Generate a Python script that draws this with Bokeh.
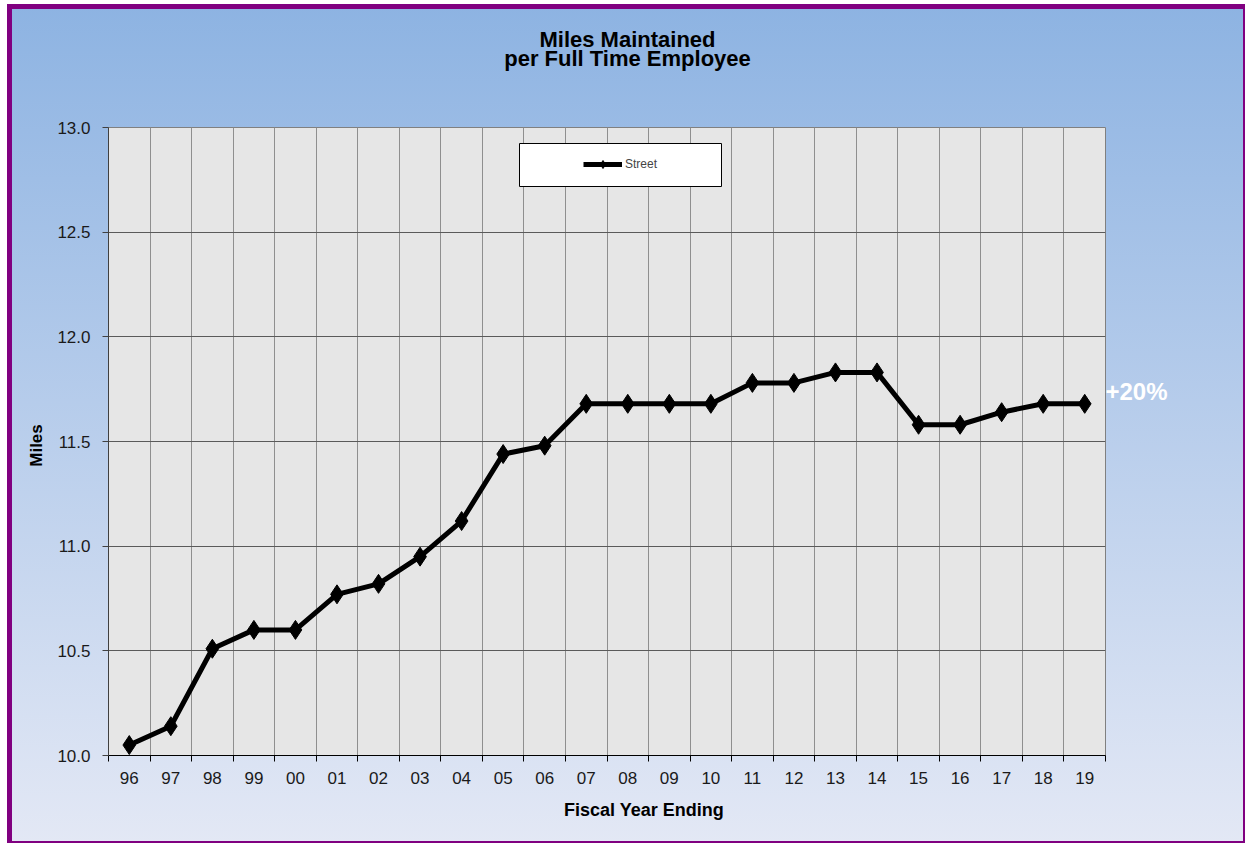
import numpy as np
from math import pi
from bokeh.plotting import figure
from bokeh.models import Range1d, FixedTicker, Label, Legend, LegendItem, BoxAnnotation, PrintfTickFormatter
from bokeh.embed import file_html
from bokeh.resources import INLINE

# ---------------- data ----------------
years = ["96", "97", "98", "99", "00", "01", "02", "03", "04", "05", "06", "07",
         "08", "09", "10", "11", "12", "13", "14", "15", "16", "17", "18", "19"]
miles = [10.05, 10.14, 10.51, 10.60, 10.60, 10.77, 10.82, 10.95, 11.12, 11.44, 11.48, 11.68,
         11.68, 11.68, 11.68, 11.78, 11.78, 11.83, 11.83, 11.58, 11.58, 11.64, 11.68, 11.68]
y_ticks = [10.0, 10.5, 11.0, 11.5, 12.0, 12.5, 13.0]
title_lines = ["Miles Maintained", "per Full Time Employee"]
series_name = "Street"
x_title = "Fiscal Year Ending"
y_title = "Miles"
change_note = "+20%"

FONT = "Liberation Sans"
n = len(years)
xs = np.arange(n) + 0.5
x0, x1 = 0, n
y0, y1 = y_ticks[0], y_ticks[-1]

p = figure(width=1238, height=839, x_range=Range1d(x0, x1), y_range=Range1d(y0, y1),
           output_backend="svg", toolbar_location=None, title=None,
           min_border_left=101, min_border_right=140, min_border_top=123, min_border_bottom=88)

p.border_fill_alpha = 0
p.background_fill_color = "#e6e6e6"
p.outline_line_color = "#808080"
p.outline_line_width = 1
p.styles = {
    "margin-left": "7px",
    "margin-top": "4px",
    "background": "linear-gradient(to bottom, #8db3e2 0%, #e3e8f5 100%)",
    "box-shadow": "inset 5px 5px 0 0 #800080, inset -2px -2px 0 0 #800080",
}

# axes
p.xaxis.ticker = FixedTicker(ticks=list(xs), minor_ticks=list(range(n + 1)))
p.xaxis.major_label_overrides = {float(x): yr for x, yr in zip(xs, years)}
p.xaxis.major_tick_out = 0
p.xaxis.major_tick_in = 0
p.xaxis.minor_tick_out = 6
p.xaxis.minor_tick_in = 0
p.xaxis.minor_tick_line_color = "black"
p.xaxis.axis_line_color = "black"
p.xaxis.major_label_standoff = 10
p.xaxis.major_label_text_font = FONT
p.xaxis.major_label_text_font_size = "17px"
p.xaxis.major_label_text_color = "#1a1a1a"

p.yaxis.ticker = FixedTicker(ticks=y_ticks)
p.yaxis.formatter = PrintfTickFormatter(format="%.1f")
p.yaxis.major_tick_out = 6
p.yaxis.major_tick_in = 0
p.yaxis.minor_tick_line_color = None
p.yaxis.axis_line_color = "#404040"
p.yaxis.major_tick_line_color = "#404040"
p.yaxis.major_label_standoff = 12
p.yaxis.major_label_text_font = FONT
p.yaxis.major_label_text_font_size = "17px"
p.yaxis.major_label_text_color = "#1a1a1a"

# grids
p.xgrid.grid_line_color = None
p.xgrid.minor_grid_line_color = "#8f8f8f"
p.xgrid.minor_grid_line_width = 1
p.ygrid.grid_line_color = "#5a5a5a"
p.ygrid.grid_line_width = 1

# series
ln = p.line(xs, miles, line_width=5, line_color="black", line_join="round")
sc = p.scatter(xs, miles, marker="diamond", size=19, fill_color="black", line_color="black")

# legend box + legend
box = BoxAnnotation(left=411, right=613, bottom=569, top=612,
                    left_units="screen", right_units="screen", top_units="screen", bottom_units="screen",
                    fill_color="white", fill_alpha=1, line_color="black", line_width=1, line_alpha=1)
p.add_layout(box)
legend = Legend(items=[LegendItem(label=series_name, renderers=[ln, sc])],
                location=(475, 581), padding=0, margin=0, border_line_color=None,
                background_fill_alpha=0, glyph_width=39, glyph_height=20, label_height=20,
                label_standoff=3, label_text_font=FONT, label_text_font_size="12px")
p.add_layout(legend)


def lab(side, **kw):
    base = dict(text_font=FONT, text_baseline="alphabetic", text_color="black", text_font_style="bold")
    base.update(kw)
    p.add_layout(Label(**base), side)


# title lines (anchored to the frame's top-left corner, offsets in pixels)
lab("above", x=x0, y=y1, x_offset=519, y_offset=88, text=title_lines[0], text_align="center", text_font_size="22px")
lab("above", x=x0, y=y1, x_offset=519, y_offset=69, text=title_lines[1], text_align="center", text_font_size="22px")
# axis titles
lab("below", x=x0, y=y0, x_offset=535.5, y_offset=-54, text=x_title, text_align="center", text_font_size="18px")
lab("right", x=x0, y=y0, x_offset=-72, y_offset=310, text=y_title, angle=pi / 2, text_align="center",
    text_font_size="17px")
# note next to the last point
lab("right", x=x1, y=miles[-1], y_offset=12, text=change_note, text_align="left", text_font_size="24px",
    text_color="white")

open("out.html", "w").write(file_html(p, INLINE))
